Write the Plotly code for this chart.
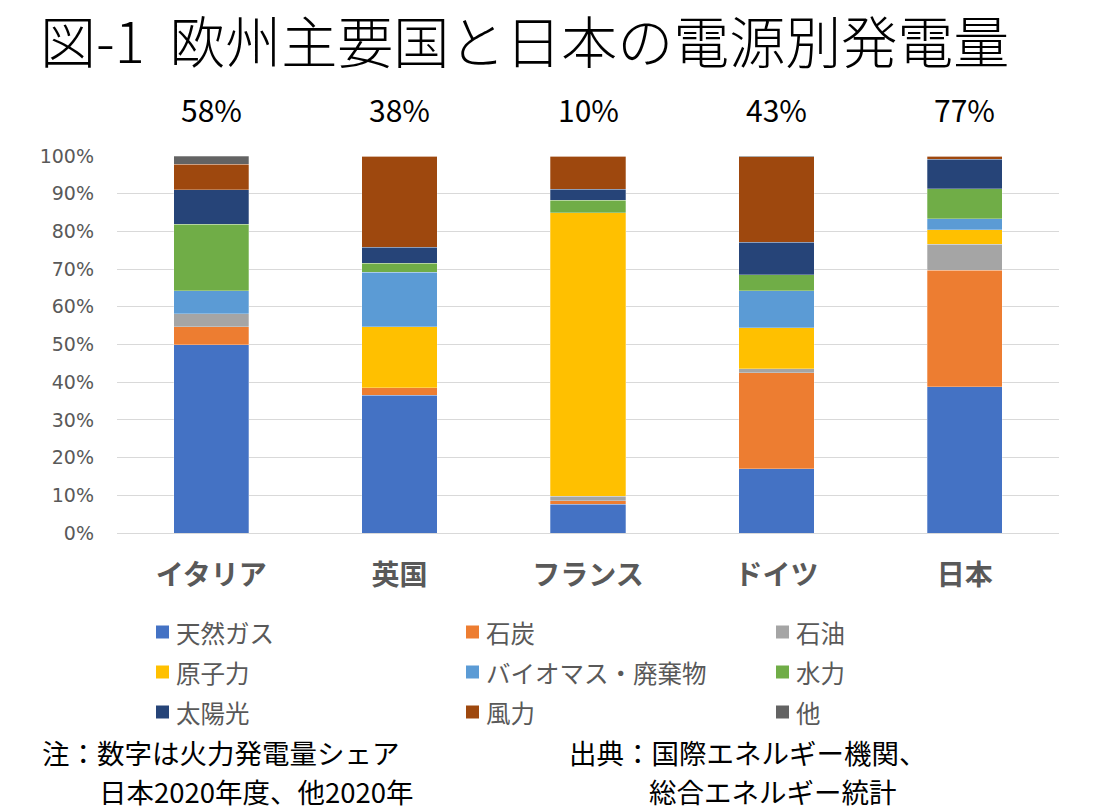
import plotly.graph_objects as go

categories = ["イタリア", "英国", "フランス", "ドイツ", "日本"]
fossil_share_labels = ["58%", "38%", "10%", "43%", "77%"]

series_names = ["天然ガス", "石炭", "石油", "原子力", "バイオマス・廃棄物", "水力", "太陽光", "風力", "他"]
gas     = [50.0, 36.5, 7.6, 17.1, 38.8]
coal    = [4.7, 2.0, 1.0, 25.4, 30.9]
oil     = [3.4, 0.0, 1.1, 1.1, 6.9]
nuclear = [0.0, 16.2, 75.2, 10.9, 3.9]
biomass = [6.2, 14.4, 0.0, 9.8, 2.9]
hydro   = [17.6, 2.5, 3.4, 4.2, 7.9]
solar   = [9.1, 4.2, 2.9, 8.6, 7.8]
wind    = [6.8, 24.2, 8.7, 22.7, 0.9]
other   = [2.2, 0.0, 0.0, 0.2, 0.0]
series_values = [gas, coal, oil, nuclear, biomass, hydro, solar, wind, other]
colors = ["#4472C4", "#ED7D31", "#A5A5A5", "#FFC000", "#5B9BD5", "#70AD47", "#264478", "#9E480E", "#636363"]

# page body adds an 8px margin; work in reference-pixel coordinates and offset
OFF = 8
W, H = 1100 - OFF, 810 - OFF
PLOT_X0, PLOT_X1, PLOT_Y0, PLOT_Y1 = 117, 1059, 156, 533  # reference pixels
L = PLOT_X0 - OFF
R = W - (PLOT_X1 - OFF)
T = PLOT_Y0 - OFF
B = H - (PLOT_Y1 - OFF)
JP = "Noto Sans CJK JP"
GRAY = "#595959"

def px(x):
    return (x - PLOT_X0) / (PLOT_X1 - PLOT_X0)

def py(y):
    return (PLOT_Y1 - y) / (PLOT_Y1 - PLOT_Y0)

fig = go.Figure()
for name, vals, col in zip(series_names, series_values, colors):
    fig.add_trace(go.Bar(
        x=categories, y=[v / 100 for v in vals], name=name,
        marker=dict(color=col, line=dict(color="rgba(255,255,255,0.35)", width=0.8)),
        showlegend=False,
    ))

annotations = []
for c, lab in zip(categories, fossil_share_labels):
    annotations.append(dict(text=lab, x=c, y=py(109), xref="x", yref="paper", xanchor="center", yanchor="middle",
                            showarrow=False, font=dict(family=JP, size=30, color="#000000")))

col_x = [156, 466, 776]
row_y = [632, 672, 712]
shapes = []
for i, (name, col) in enumerate(zip(series_names, colors)):
    cx = col_x[i % 3]
    ry = row_y[i // 3]
    shapes.append(dict(type="rect", xref="paper", yref="paper",
                       x0=px(cx), x1=px(cx + 13), y0=py(ry + 6.5), y1=py(ry - 6.5),
                       fillcolor=col, line=dict(width=0)))
    annotations.append(dict(text=name, x=px(cx + 18), y=py(ry), xref="paper", yref="paper",
                            xanchor="left", yanchor="middle", showarrow=False,
                            font=dict(family=JP, size=24.5, color=GRAY)))

notes = [("注：数字は火力発電量シェア", 40, 752), ("日本2020年度、他2020年", 97, 791),
         ("出典：国際エネルギー機関、", 567, 752), ("総合エネルギー統計", 647, 791)]
for t, x, y in notes:
    annotations.append(dict(text=t, x=px(x), y=py(y), xref="paper", yref="paper", xanchor="left", yanchor="middle",
                            showarrow=False, font=dict(family=JP, size=27.5, color="#000000")))

fig.update_layout(
    width=W, height=H, barmode="stack", bargap=0.6,
    margin=dict(l=L, r=R, t=T, b=B),
    plot_bgcolor="white", paper_bgcolor="white",
    title=dict(text="図-1  欧州主要国と日本の電源別発電量", xref="container", yref="container",
               x=(40 - OFF) / W, xanchor="left", y=1 - (43 - OFF) / H, yanchor="middle",
               font=dict(family=JP, size=56, color="#000000", weight=300)),
    annotations=annotations, shapes=shapes,
    xaxis=dict(showgrid=False, showline=False, ticks="", ticklabelstandoff=23,
               tickfont=dict(family=JP, size=28, color=GRAY, weight="bold")),
    yaxis=dict(range=[0, 1], dtick=0.1, tickformat=".0%", showgrid=True, gridcolor="#D9D9D9", gridwidth=1.2,
               zeroline=True, zerolinecolor="#D9D9D9", zerolinewidth=1.2, showline=False, ticks="",
               ticklabelstandoff=22, tickfont=dict(family="DejaVu Sans", size=19, color=GRAY)),
)

fig.write_html("out.html")
